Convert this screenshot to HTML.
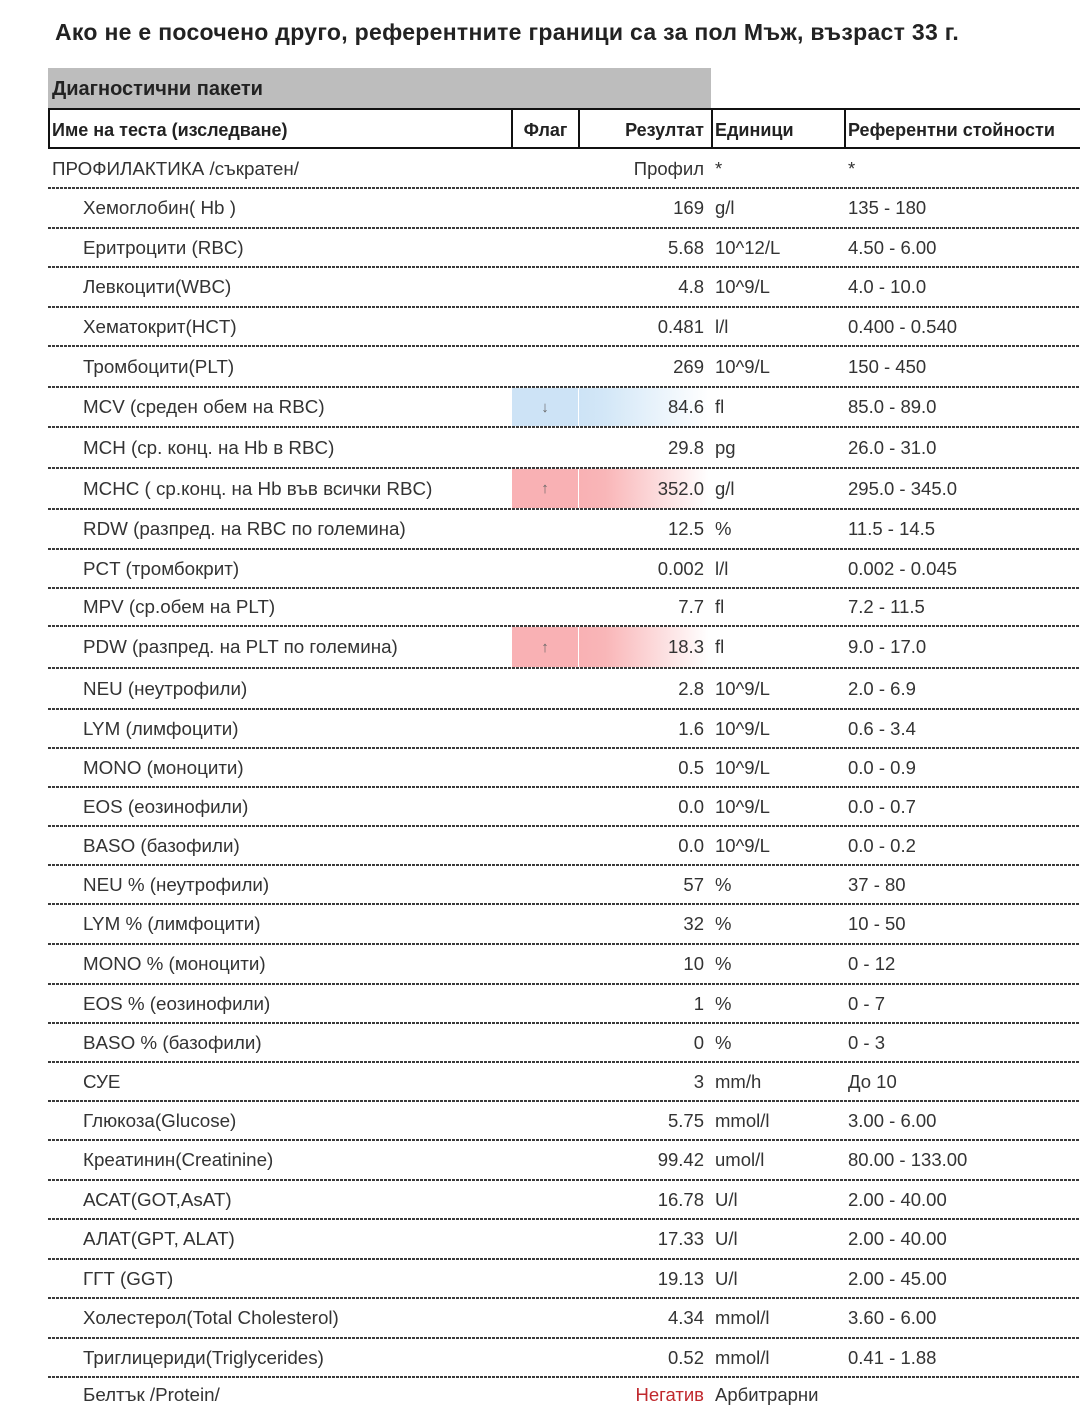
<!DOCTYPE html>
<html>
<head>
<meta charset="utf-8">
<style>
html,body{margin:0;padding:0;background:#fff;}
body{width:1080px;height:1393px;position:relative;overflow:hidden;font-family:"Liberation Sans","Noto Sans CJK SC",sans-serif;color:#333;}
.title{position:absolute;left:55px;top:17px;font-size:23px;letter-spacing:0.3px;font-weight:bold;color:#222;line-height:30px;white-space:nowrap;}
.bar{position:absolute;left:48px;top:68px;width:663px;height:41px;background:#bdbdbd;}
.bar span{position:absolute;left:4px;top:0;line-height:42px;font-size:20px;font-weight:bold;color:#222;white-space:nowrap;}
.hdr{position:absolute;left:48px;top:108px;width:1040px;height:37px;border:2px solid #111;border-right:none;}
.hdr span{position:absolute;top:0;line-height:40px;font-size:18px;font-weight:bold;color:#222;white-space:nowrap;}
.vl{position:absolute;top:0;width:2px;height:37px;background:#111;}
.r{position:absolute;left:0;width:1080px;}
.r span{position:absolute;top:0;white-space:nowrap;font-size:18.5px;}
.r span.n,.r span.n0{font-size:18.8px;}
.n{left:83px;}
.n0{left:52px;}
.v{right:376px;text-align:right;}
.u{left:715px;}
.f{left:848px;}
.sep{position:absolute;left:48px;width:1032px;height:2px;background:repeating-linear-gradient(90deg,#3a3a3a 0 3px,rgba(0,0,0,0) 3px 4px);}
.fl{position:absolute;left:512px;width:66px;}
.gr{position:absolute;left:579px;width:132px;}
.ln{position:absolute;left:578px;width:1px;background:rgba(255,255,255,0.35);}
.ar{position:absolute;left:512px;width:66px;text-align:center;font-size:15px;color:#666;}
.blue{background:linear-gradient(90deg,#cde3f6 0%,#d3e7f7 20%,#ffffff 98%);}
.red{background:linear-gradient(90deg,#f9b1b4 0%,#f9b6b8 20%,#ffffff 98%);}
</style>
</head>
<body>
<div class="title">Ако не е посочено друго, референтните граници са за пол Мъж, възраст 33 г.</div>
<div class="bar"><span>Диагностични пакети</span></div>
<div class="hdr">
  <span style="left:2px">Име на теста (изследване)</span>
  <div class="vl" style="left:461px"></div>
  <span style="left:463px;width:65px;text-align:center">Флаг</span>
  <div class="vl" style="left:528px"></div>
  <span style="left:530px;width:124px;text-align:right">Резултат</span>
  <div class="vl" style="left:661px"></div>
  <span style="left:665px">Единици</span>
  <div class="vl" style="left:794px"></div>
  <span style="left:798px">Референтни стойности</span>
</div>

<!-- colored flag cells -->
<div class="fl" style="top:388px;height:38px;background:#cde3f6"></div>
<div class="gr blue" style="top:388px;height:38px"></div>
<div class="ln" style="top:388px;height:38px"></div>
<div class="ar" style="top:388px;height:38px;line-height:39px">↓</div>

<div class="fl" style="top:469px;height:39px;background:#f9b1b4"></div>
<div class="gr red" style="top:469px;height:39px"></div>
<div class="ln" style="top:469px;height:39px"></div>
<div class="ar" style="top:469px;height:39px;line-height:40px">↑</div>

<div class="fl" style="top:627px;height:40px;background:#f9b1b4"></div>
<div class="gr red" style="top:627px;height:40px"></div>
<div class="ln" style="top:627px;height:40px"></div>
<div class="ar" style="top:627px;height:40px;line-height:41px">↑</div>

<!-- rows -->
<div class="r" style="top:150px;height:37px;line-height:37px"><span class="n0">ПРОФИЛАКТИКА /съкратен/</span><span class="v">Профил</span><span class="u">*</span><span class="f">*</span></div>
<div class="sep" style="top:187px"></div>
<div class="r" style="top:189px;height:38px;line-height:38px"><span class="n">Хемоглобин( Hb )</span><span class="v">169</span><span class="u">g/l</span><span class="f">135 - 180</span></div>
<div class="sep" style="top:227px"></div>
<div class="r" style="top:229px;height:37px;line-height:37px"><span class="n">Еритроцити (RBC)</span><span class="v">5.68</span><span class="u">10^12/L</span><span class="f">4.50 - 6.00</span></div>
<div class="sep" style="top:266px"></div>
<div class="r" style="top:268px;height:38px;line-height:38px"><span class="n">Левкоцити(WBC)</span><span class="v">4.8</span><span class="u">10^9/L</span><span class="f">4.0 - 10.0</span></div>
<div class="sep" style="top:306px"></div>
<div class="r" style="top:308px;height:37px;line-height:37px"><span class="n">Хематокрит(HCT)</span><span class="v">0.481</span><span class="u">l/l</span><span class="f">0.400 - 0.540</span></div>
<div class="sep" style="top:345px"></div>
<div class="r" style="top:347px;height:39px;line-height:39px"><span class="n">Тромбоцити(PLT)</span><span class="v">269</span><span class="u">10^9/L</span><span class="f">150 - 450</span></div>
<div class="sep" style="top:386px"></div>
<div class="r" style="top:388px;height:38px;line-height:38px"><span class="n">MCV (среден обем на RBC)</span><span class="v">84.6</span><span class="u">fl</span><span class="f">85.0 - 89.0</span></div>
<div class="sep" style="top:426px"></div>
<div class="r" style="top:428px;height:39px;line-height:39px"><span class="n">MCH (ср. конц. на Hb в RBC)</span><span class="v">29.8</span><span class="u">pg</span><span class="f">26.0 - 31.0</span></div>
<div class="sep" style="top:467px"></div>
<div class="r" style="top:469px;height:39px;line-height:39px"><span class="n">MCHC ( ср.конц. на Hb във всички RBC)</span><span class="v">352.0</span><span class="u">g/l</span><span class="f">295.0 - 345.0</span></div>
<div class="sep" style="top:508px"></div>
<div class="r" style="top:510px;height:38px;line-height:38px"><span class="n">RDW (разпред. на RBC по големина)</span><span class="v">12.5</span><span class="u">%</span><span class="f">11.5 - 14.5</span></div>
<div class="sep" style="top:548px"></div>
<div class="r" style="top:550px;height:37px;line-height:37px"><span class="n">PCT (тромбокрит)</span><span class="v">0.002</span><span class="u">l/l</span><span class="f">0.002 - 0.045</span></div>
<div class="sep" style="top:587px"></div>
<div class="r" style="top:589px;height:36px;line-height:36px"><span class="n">MPV (ср.обем на PLT)</span><span class="v">7.7</span><span class="u">fl</span><span class="f">7.2 - 11.5</span></div>
<div class="sep" style="top:625px"></div>
<div class="r" style="top:627px;height:40px;line-height:40px"><span class="n">PDW (разпред. на PLT по големина)</span><span class="v">18.3</span><span class="u">fl</span><span class="f">9.0 - 17.0</span></div>
<div class="sep" style="top:667px"></div>
<div class="r" style="top:669px;height:39px;line-height:39px"><span class="n">NEU (неутрофили)</span><span class="v">2.8</span><span class="u">10^9/L</span><span class="f">2.0 - 6.9</span></div>
<div class="sep" style="top:708px"></div>
<div class="r" style="top:710px;height:37px;line-height:37px"><span class="n">LYM (лимфоцити)</span><span class="v">1.6</span><span class="u">10^9/L</span><span class="f">0.6 - 3.4</span></div>
<div class="sep" style="top:747px"></div>
<div class="r" style="top:749px;height:37px;line-height:37px"><span class="n">MONO (моноцити)</span><span class="v">0.5</span><span class="u">10^9/L</span><span class="f">0.0 - 0.9</span></div>
<div class="sep" style="top:786px"></div>
<div class="r" style="top:788px;height:37px;line-height:37px"><span class="n">EOS (еозинофили)</span><span class="v">0.0</span><span class="u">10^9/L</span><span class="f">0.0 - 0.7</span></div>
<div class="sep" style="top:825px"></div>
<div class="r" style="top:827px;height:37px;line-height:37px"><span class="n">BASO (базофили)</span><span class="v">0.0</span><span class="u">10^9/L</span><span class="f">0.0 - 0.2</span></div>
<div class="sep" style="top:864px"></div>
<div class="r" style="top:866px;height:37px;line-height:37px"><span class="n">NEU % (неутрофили)</span><span class="v">57</span><span class="u">%</span><span class="f">37 - 80</span></div>
<div class="sep" style="top:903px"></div>
<div class="r" style="top:905px;height:38px;line-height:38px"><span class="n">LYM % (лимфоцити)</span><span class="v">32</span><span class="u">%</span><span class="f">10 - 50</span></div>
<div class="sep" style="top:943px"></div>
<div class="r" style="top:945px;height:38px;line-height:38px"><span class="n">MONO % (моноцити)</span><span class="v">10</span><span class="u">%</span><span class="f">0 - 12</span></div>
<div class="sep" style="top:983px"></div>
<div class="r" style="top:985px;height:37px;line-height:37px"><span class="n">EOS % (еозинофили)</span><span class="v">1</span><span class="u">%</span><span class="f">0 - 7</span></div>
<div class="sep" style="top:1022px"></div>
<div class="r" style="top:1024px;height:37px;line-height:37px"><span class="n">BASO % (базофили)</span><span class="v">0</span><span class="u">%</span><span class="f">0 - 3</span></div>
<div class="sep" style="top:1061px"></div>
<div class="r" style="top:1063px;height:37px;line-height:37px"><span class="n">СУЕ</span><span class="v">3</span><span class="u">mm/h</span><span class="f">До 10</span></div>
<div class="sep" style="top:1100px"></div>
<div class="r" style="top:1102px;height:37px;line-height:37px"><span class="n">Глюкоза(Glucose)</span><span class="v">5.75</span><span class="u">mmol/l</span><span class="f">3.00 - 6.00</span></div>
<div class="sep" style="top:1139px"></div>
<div class="r" style="top:1141px;height:38px;line-height:38px"><span class="n">Креатинин(Creatinine)</span><span class="v">99.42</span><span class="u">umol/l</span><span class="f">80.00 - 133.00</span></div>
<div class="sep" style="top:1179px"></div>
<div class="r" style="top:1181px;height:37px;line-height:37px"><span class="n">АСАТ(GOT,AsAT)</span><span class="v">16.78</span><span class="u">U/l</span><span class="f">2.00 - 40.00</span></div>
<div class="sep" style="top:1218px"></div>
<div class="r" style="top:1220px;height:38px;line-height:38px"><span class="n">АЛАТ(GPT, ALAT)</span><span class="v">17.33</span><span class="u">U/l</span><span class="f">2.00 - 40.00</span></div>
<div class="sep" style="top:1258px"></div>
<div class="r" style="top:1260px;height:37px;line-height:37px"><span class="n">ГГТ (GGT)</span><span class="v">19.13</span><span class="u">U/l</span><span class="f">2.00 - 45.00</span></div>
<div class="sep" style="top:1297px"></div>
<div class="r" style="top:1299px;height:38px;line-height:38px"><span class="n">Холестерол(Total Cholesterol)</span><span class="v">4.34</span><span class="u">mmol/l</span><span class="f">3.60 - 6.00</span></div>
<div class="sep" style="top:1337px"></div>
<div class="r" style="top:1339px;height:37px;line-height:37px"><span class="n">Триглицериди(Triglycerides)</span><span class="v">0.52</span><span class="u">mmol/l</span><span class="f">0.41 - 1.88</span></div>
<div class="sep" style="top:1376px"></div>
<div class="r" style="top:1376px;height:37px;line-height:37px"><span class="n">Белтък /Protein/</span><span class="v" style="color:#c0282d">Негатив</span><span class="u">Арбитрарни</span></div>
</body>
</html>
